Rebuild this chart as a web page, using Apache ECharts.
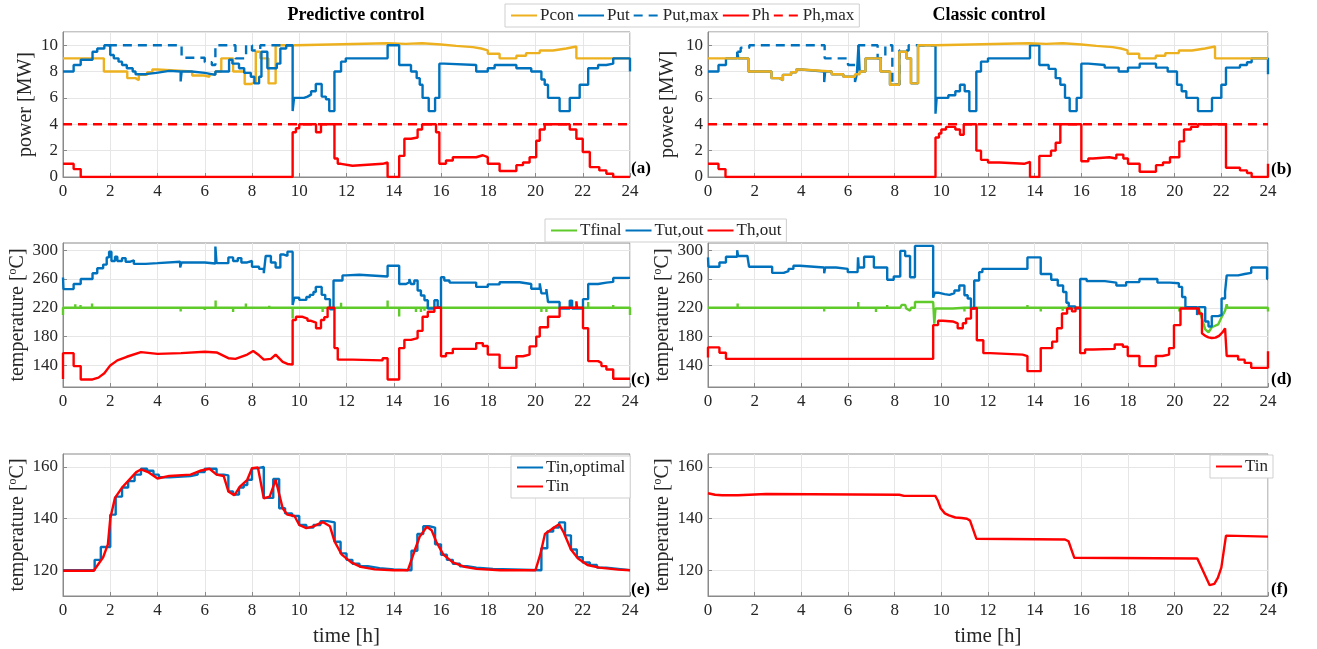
<!DOCTYPE html>
<html><head><meta charset="utf-8">
<script src="https://cdn.jsdelivr.net/npm/echarts@6/dist/echarts.min.js"></script>
<style>html,body{margin:0;padding:0;background:#fff}#c{width:1317px;height:649px}</style>
</head><body><div id="c"></div><script>
// ---------------- DATA ----------------
var xTicks = [0,2,4,6,8,10,12,14,16,18,20,22,24];
var powerTicks = [0,2,4,6,8,10];
var tempTicksCD = [140,180,220,260,300];
var tempTicksEF = [120,140,160];

// (a) Predictive control – power [MW]  (step functions: [t, value])
var pconA = [[0,9],[1.73,8],[2.72,7.5],[3.07,7.35],[3.21,7.75],[3.56,7.95],[3.78,8.15],[4.0,8.0],[5.47,7.7],[5.97,7.6],[6.2,7.8],[6.45,8.0],[6.7,9.0],[7.2,8.0],[7.69,7.05],[7.95,7.2],[8.16,9.5],[8.35,9.0],[8.7,7.1],[9.0,10],[9.85,10.15],[13.74,10.1],[14.5,10.15],[15.2,10.05],[16.0,9.95],[16.64,9.85],[17.35,9.75],[17.7,9.6],[17.98,9.35],[18.48,9.0],[19.19,9.2],[19.6,9.4],[20.18,9.6],[20.74,9.75],[21.3,9.9],[21.73,9.0],[24,9.0]];
var putA = [[0,8],[0.45,8.5],[0.75,8.9],[1.25,9.5],[1.45,9.75],[1.75,10],[2.0,9.25],[2.15,9.0],[2.35,8.75],[2.5,8.5],[2.7,8.25],[2.95,8.0],[3.07,7.8],[3.5,7.9],[3.95,8.05],[4.5,8.0],[4.98,7.25],[5.02,8.0],[5.45,7.9],[6.0,7.75],[6.45,8.0],[7.03,8.9],[7.17,8.6],[7.45,8.25],[7.67,7.9],[7.95,7.6],[8.1,7.1],[8.3,7.6],[8.4,9.5],[8.65,8.25],[9.05,8.6],[9.2,9.75],[9.45,10],[9.72,5.0],[9.78,6.0],[10.2,6.1],[10.35,6.25],[10.5,6.5],[10.7,7.05],[10.95,6.1],[11.13,5.9],[11.27,5.0],[11.49,8.0],[11.77,8.75],[11.97,9.0],[13.74,10],[14.23,8.5],[14.73,8.0],[14.97,7.5],[15.1,7.0],[15.22,6.0],[15.48,5.0],[15.75,6.0],[15.93,8.6],[16.14,8.5],[17.49,8.0],[17.98,8.25],[18.27,8.5],[19.19,8.25],[19.82,8.0],[20.25,7.4],[20.39,7.0],[20.53,6.0],[21.02,5.0],[21.45,6.0],[21.87,7.0],[22.23,8.25],[22.65,8.5],[23.0,8.6],[23.29,9.0],[24,8.0]];
var putMaxA = [[1.9,10],[5.02,9.05],[6.0,8.7],[6.3,8.5],[6.45,10],[7.3,9.0],[7.75,10],[8.0,9.6],[8.35,10],[9.72,10]];
var phA = [[0,1.0],[0.45,0.6],[0.75,0],[9.72,3.4],[9.86,3.7],[10.0,4.0],[10.71,3.4],[10.92,4.0],[11.49,1.4],[11.63,1.0],[11.77,0.85],[12.25,1.0],[13.53,1.1],[13.74,0],[14.23,1.6],[14.45,2.9],[14.73,3.0],[15.01,3.6],[15.2,4.0],[15.79,3.4],[15.93,1.0],[16.21,1.25],[16.5,1.5],[17.49,1.65],[17.77,1.5],[17.98,1.0],[18.48,0.45],[19.19,0.9],[19.47,1.1],[19.75,1.5],[20.03,2.75],[20.18,3.6],[20.39,4.0],[21.45,3.6],[21.73,2.9],[22.0,1.9],[22.3,0.75],[22.7,0.5],[23.0,0.25],[23.29,0],[24,0]];
var phMax = [[0,4],[24,4]];

// (b) Classic control – power [MW]
var pconB = [[0,9],[1.73,8],[2.72,7.5],[3.07,7.35],[3.21,7.75],[3.56,7.95],[3.78,8.15],[4.0,8.0],[5.3,7.8],[5.8,7.6],[6.3,7.8],[6.5,8.0],[6.75,9.0],[7.4,8.0],[7.8,7.0],[8.2,9.5],[8.5,9.0],[8.7,7.1],[9.0,10],[9.75,10.15],[13.74,10.1],[14.5,10.15],[15.2,10.05],[16.0,9.95],[16.64,9.85],[17.35,9.75],[17.7,9.6],[17.98,9.35],[18.48,9.0],[19.19,9.2],[19.6,9.4],[20.18,9.6],[20.74,9.75],[21.3,9.9],[21.73,9.0],[24,9.0]];
var putB = [[0,8],[0.45,8.5],[0.77,9],[1.25,9.5],[1.3,9],[1.73,8],[2.72,7.5],[3.07,7.35],[3.21,7.75],[3.56,7.95],[3.78,8.15],[4.0,8.0],[4.98,7.2],[5.02,8.0],[5.3,7.8],[5.8,7.6],[6.3,7.2],[6.38,7.8],[6.45,10],[6.5,8.0],[6.75,9.0],[7.4,8.0],[7.8,7.0],[8.2,9.5],[8.5,9.0],[8.7,7.1],[9.0,10],[9.75,4.8],[9.8,6.0],[10.3,6.2],[10.6,6.5],[10.8,7.0],[11.0,6.5],[11.2,5.0],[11.5,8.0],[11.7,8.75],[12.0,9.0],[13.8,10],[14.2,8.5],[14.6,8.2],[14.9,7.5],[15.1,7.0],[15.3,6.0],[15.5,5.0],[15.8,6.0],[16.0,8.6],[16.3,8.5],[17.0,8.3],[17.6,8.0],[18.0,8.3],[18.5,8.6],[19.2,8.3],[19.7,8.0],[20.1,7.0],[20.3,6.5],[20.5,6.0],[21.0,5.0],[21.6,6.0],[22.0,7.0],[22.2,8.3],[22.8,8.5],[23.1,8.7],[23.3,9.0],[24,7.8]];
var putMaxB = [[1.26,9.5],[1.4,9.8],[1.77,10],[5.0,9.0],[6.0,8.5],[6.45,10],[7.27,9.0],[7.6,10],[7.9,7.0],[8.2,9.6],[8.6,10],[9.75,10]];
var phB = [[0,1.0],[0.45,0.6],[0.75,0],[9.75,3.0],[9.9,3.3],[10.0,3.6],[10.2,3.8],[10.6,3.6],[10.8,3.2],[10.96,4.0],[11.5,2.0],[11.7,1.3],[12.0,1.1],[12.5,1.0],[13.55,1.15],[13.8,0],[14.2,1.6],[14.7,2.0],[14.9,2.6],[15.1,4.0],[16.0,1.2],[16.3,1.4],[16.5,1.5],[17.2,1.4],[17.5,1.7],[17.8,1.4],[18.0,1.0],[18.5,0.4],[19.2,0.9],[19.5,1.1],[19.8,1.5],[20.2,2.7],[20.4,3.6],[20.7,3.8],[21.0,4.0],[22.2,0.7],[22.8,0.5],[23.1,0.3],[23.3,0],[24,1.0]];

// (c) Predictive control – temperatures [°C]
var tfinalCStart = 210, tfinalCBase = 220, tfinalCEnd = 210;
var tfinalCSpikeT = [0.52,0.74,1.23,4.98,6.0,6.46,7.2,7.74,8.73,9.72,10.99,11.1,11.77,13.74,14.23,14.94,15.15,15.3,17.5,18.5,20.25,20.46,22.23,23.29];
var tfinalCSpikeV = [225,224,226,215,217,230,214,226,223,205,214,222,227,230,208,214,214,216,218,218,214,214,228,224];
var tutC = [[0,262],[0.02,246],[0.45,253],[0.75,260],[1.25,268],[1.45,275],[1.7,280],[1.85,290],[1.95,298],[2.05,285],[2.2,291],[2.3,285],[2.5,289],[2.65,284],[2.85,286],[3.0,281],[3.5,282],[4.0,284],[4.96,276],[5.02,283],[6.0,281.5],[6.45,305],[6.5,282],[7.0,290],[7.2,285],[7.4,289],[7.55,283],[7.8,285],[8.0,277],[8.3,274],[8.5,268],[8.58,292],[8.8,283],[9.0,276],[9.2,294],[9.35,292],[9.5,298],[9.72,224],[9.79,234],[10.0,231],[10.3,235],[10.45,238],[10.6,242],[10.7,249],[10.95,238],[11.1,232],[11.3,218],[11.45,258],[11.83,265],[11.97,266],[12.54,263.5],[13.74,278.5],[14.23,253],[14.52,255.5],[14.66,260],[14.73,253],[14.87,258],[15.01,244],[15.15,237],[15.3,230.5],[15.44,219],[15.72,230.5],[15.86,221],[16.0,262.5],[16.14,258],[16.36,255],[17.49,249],[17.98,252.5],[18.48,255.5],[19.33,253],[19.82,246.5],[20.18,254],[20.25,240],[20.46,246],[20.53,228],[21.02,219],[21.45,230],[21.55,219],[22.01,232],[22.23,253],[22.65,255],[23.0,256],[23.29,261.5],[24,261.5]];
var thCStart = 121;
var thCStepA = [[0,157],[0.45,139],[0.75,120.5],[1.25,120.5]];
var thCSmooth = [[1.5,123],[1.75,129],[2.0,140],[2.3,147],[2.7,152],[3.3,158.5],[4.0,156],[5.0,157],[6.0,159],[6.5,158],[7.0,150],[7.3,149],[7.8,155],[8.05,160],[8.3,154],[8.5,148],[8.8,149],[9.0,155],[9.3,145],[9.5,142],[9.72,141]];
var thCStepB = [[9.72,203],[9.86,207.5],[10.14,205],[10.35,202],[10.5,199.5],[10.71,191.5],[10.92,203],[11.06,207],[11.2,220],[11.49,164],[11.63,148],[12.25,147],[13.53,150],[13.74,120.5],[14.23,164],[14.45,175.5],[14.73,178],[15.01,188],[15.22,207.5],[15.44,214.5],[15.72,220],[16.0,152.7],[16.21,157],[16.5,163],[17.49,171],[17.77,167],[17.98,155],[18.48,136.5],[19.19,152.7],[19.47,155],[19.75,166.4],[20.03,180],[20.18,193],[20.53,207.5],[21.02,220],[21.73,229],[21.76,220],[22.01,191.5],[22.23,146],[22.65,143.5],[22.79,139],[23.0,134.3],[23.29,121.5],[24,121.5]];

// (d) Classic control – temperatures [°C]
var tfinalD = [[0,220],[1.27,220],[1.27,226],[1.27,220],[4.98,220],[4.98,215],[4.98,220],[6.44,220],[6.44,228],[6.44,220],[7.2,220],[7.2,214],[7.2,220],[7.68,220],[7.68,224],[7.68,220],[8.24,220],[8.3,224],[8.45,224],[8.5,219],[8.66,216],[8.7,220],[8.87,220],[8.87,228],[9.65,228],[9.7,198],[9.75,219],[10.5,219],[10.99,220],[10.99,215],[10.99,220],[13.69,220],[13.69,224],[13.69,220],[14.26,220],[14.26,215],[14.26,220],[15.2,220],[15.2,216],[15.2,220],[20.2,220],[20.2,215],[20.2,220],[21.03,220],[21.31,190],[21.45,186],[21.59,193],[21.87,197],[22.01,207],[22.16,216],[22.23,225],[22.26,220],[24,220],[24,215]];
var tutD = [[0,290],[0.02,277],[0.49,283],[0.77,291],[1.25,300],[1.29,292],[1.69,291],[1.76,277],[2.75,268.5],[3.24,271],[3.45,274],[3.66,278.5],[3.94,276],[4.98,268],[5.02,276],[5.49,274],[5.99,269.5],[6.41,272],[6.43,290],[6.46,276],[6.69,291],[7.11,276],[7.68,259],[7.96,263.5],[8.24,299],[8.45,292],[8.66,262.5],[8.87,306],[9.65,234],[9.72,241],[9.86,239],[10.14,238],[10.35,240.5],[10.56,244],[10.77,251],[10.99,237.5],[11.13,233],[11.27,219],[11.41,258],[11.62,269.5],[11.76,274],[13.69,290],[14.26,267],[14.71,259],[14.99,251],[15.22,242],[15.36,227],[15.46,222],[15.74,219],[15.95,260],[16.23,257],[17.01,255],[17.5,251],[17.92,255.7],[18.49,260],[19.26,255],[19.8,254],[20.18,249],[20.32,235],[20.46,221],[20.96,210],[21.03,221],[21.31,201],[21.45,194],[21.59,208.5],[21.87,210],[22.01,233],[22.16,242],[22.23,265],[22.72,267],[23.0,268.5],[23.28,276],[23.96,260],[24,260]];
var thDStart = 151;
var thDStepA = [[0,165],[0.49,157.5],[0.77,149],[9.65,196],[9.86,202],[10.07,201],[10.49,198.5],[10.7,191.6],[10.92,198.5],[11.06,205],[11.27,219],[11.41,220],[11.52,175],[11.8,157],[12.1,155],[13.48,153],[13.69,132],[14.26,164],[14.75,173],[14.96,191.6],[15.17,212],[15.39,219],[15.6,215],[15.75,220],[15.95,157],[16.16,162],[16.51,163],[17.43,169],[17.78,166],[17.99,153],[18.49,139],[19.19,153],[19.48,155],[19.76,164],[19.97,196],[20.25,219],[21.03,212],[21.17,184.7]];
var thDSmooth = [[21.31,181],[21.45,179],[21.59,178],[21.75,178.5],[21.9,181],[22.05,186],[22.16,191.5],[22.2,191]];
var thDStepB = [[22.23,153],[22.72,148],[23.0,143.5],[23.28,136.6],[24,136.6]];
var thDEnd = 159.5;

// (e) Predictive control – inlet temperature [°C]
var tinOptE = [[0,120],[1.34,124],[1.6,129],[2.0,141.5],[2.23,148.5],[2.5,152],[2.76,154.5],[3.03,157],[3.3,159.3],[3.56,158.5],[3.83,157],[4.06,156],[4.5,156.5],[5.4,157],[5.7,158],[6.0,159.3],[6.5,157],[6.8,156.7],[7.0,150.5],[7.2,149.3],[7.45,152],[7.65,153],[7.8,155],[8.0,159.5],[8.25,160],[8.5,148],[8.9,155.3],[9.15,144],[9.4,142],[9.7,141],[10.0,137.5],[10.3,136.5],[10.6,137.5],[10.9,139],[11.2,138.5],[11.5,131],[11.75,126.5],[12.0,124],[12.25,122.5],[12.55,121.5],[12.9,120.8],[13.4,120.3],[14.0,120],[14.75,127.5],[15.0,134],[15.25,137],[15.5,136.5],[15.75,130],[16.0,126],[16.25,124],[16.5,122.5],[16.8,121.5],[17.1,121],[17.5,120.5],[18.2,120],[20.25,128.5],[20.5,135],[20.75,136.5],[21.0,138.5],[21.25,133.5],[21.5,128],[21.75,125],[22.0,123],[22.3,122],[22.6,121],[23.0,120.5],[23.5,120],[24,120]];
var tinE = [[0,119.8],[1.3,119.8],[1.7,125],[1.9,130],[2.0,140],[2.2,148],[2.5,152],[2.8,155],[3.1,158],[3.3,159],[3.6,158],[4.0,155.5],[4.5,156.5],[5.4,157],[5.8,158.5],[6.2,159.3],[6.5,157],[6.8,156.5],[7.0,150.5],[7.25,149],[7.5,152.5],[7.8,155],[8.0,159.5],[8.25,159.8],[8.5,147.8],[8.75,148.5],[9.0,155],[9.3,144],[9.5,141.5],[9.8,141],[10.0,137.5],[10.3,136.3],[10.6,137],[11.0,138.7],[11.3,137],[11.5,131],[11.8,126],[12.2,123],[12.6,121.3],[13.2,120.3],[14.0,120],[14.6,120],[14.9,128],[15.1,133],[15.4,136.8],[15.6,135.5],[15.8,131],[16.1,126],[16.5,123],[17.0,121.3],[17.5,120.5],[18.5,120],[20.0,120],[20.2,126],[20.4,134],[20.7,136],[21.0,137.8],[21.2,134.5],[21.5,128],[21.8,124.5],[22.2,122],[22.7,121],[23.5,120.2],[24,120]];

// (f) Classic control – inlet temperature [°C]
var tinF = [[0,149.8],[0.3,149.2],[0.6,149],[1.28,149],[1.3,149.7],[2.5,149.5],[8.2,149.2],[8.4,148.8],[9.74,148.8],[9.85,147],[9.97,144],[10.15,142],[10.33,141.2],[10.6,140.4],[10.87,140.2],[11.1,139.9],[11.23,139.2],[11.5,132.2],[15.3,131.9],[15.45,131.2],[15.7,124.8],[20.97,124.5],[21.5,114.2],[21.7,114.7],[21.85,117],[22.0,121],[22.2,133.4],[24,133]];

// ---------------- HELPERS ----------------
function stepPoly(p){var o=[];for(var i=0;i<p.length;i++){o.push([p[i][0],p[i][1]]);if(i<p.length-1)o.push([p[i+1][0],p[i][1]]);}return o;}
function spiky(start,base,end,ts,vs){var o=[[0,start],[0,base]];for(var i=0;i<ts.length;i++){o.push([ts[i],base],[ts[i],vs[i]],[ts[i],base]);}o.push([24,base],[24,end]);return o;}

var tfinalC = spiky(tfinalCStart,tfinalCBase,tfinalCEnd,tfinalCSpikeT,tfinalCSpikeV);
var thC = [[0,thCStart]].concat(stepPoly(thCStepA),thCSmooth,stepPoly(thCStepB));
var thD = [[0,thDStart]].concat(stepPoly(thDStepA),thDSmooth,stepPoly(thDStepB),[[24,thDEnd]]);

// ---------------- STYLE ----------------
var FONT = '"Liberation Serif", "Times New Roman", serif';
var FRAME = '#8a8a8a', GRIDC = '#e6e6e6', TXT = '#262626';
var ORANGE = '#EDB120', BLUE = '#0072BD', RED = '#FF0000', GREEN = '#5FCB2A';
var grids = [
  {left:63, top:32, width:567, height:145},
  {left:708, top:32, width:560, height:145},
  {left:63, top:243, width:567, height:144},
  {left:708, top:243, width:560, height:144},
  {left:63, top:454, width:567, height:142},
  {left:708, top:454, width:560, height:142}
];
grids.forEach(function(g){g.show=true;g.borderColor=FRAME;g.borderWidth=1;g.backgroundColor='#fff';});

function xAx(i, named){
  return {type:'value', gridIndex:i, min:0, max:24, interval:2,
    axisLine:{show:true,onZero:false,lineStyle:{color:FRAME}},
    axisTick:{show:true,inside:true,length:4,lineStyle:{color:FRAME}},
    axisLabel:{color:TXT,fontFamily:FONT,fontSize:17,margin:6},
    splitLine:{show:true,lineStyle:{color:GRIDC,width:1}},
    name: named?'time [h]':'', nameLocation:'middle', nameGap:30,
    nameTextStyle:{color:TXT,fontFamily:FONT,fontSize:21}};
}
var supRich = {s:{fontSize:12,fontFamily:FONT,color:TXT,verticalAlign:'top',lineHeight:22}};
function yAx(i, o){
  var a = {type:'value', gridIndex:i, min:o.min, max:o.max,
    axisLine:{show:true,onZero:false,lineStyle:{color:FRAME}},
    axisTick:{show:true,inside:true,length:4,lineStyle:{color:FRAME}},
    axisLabel:{color:TXT,fontFamily:FONT,fontSize:17,margin:5},
    splitLine:{show:true,lineStyle:{color:GRIDC,width:1}},
    name:o.name, nameLocation:'middle', nameGap:o.gap,
    nameTextStyle:{color:TXT,fontFamily:FONT,fontSize:20,lineHeight:22,rich:supRich}};
  if(o.interval){a.interval=o.interval;a.axisLabel.showMaxLabel=false;}
  if(o.ticks){a.axisLabel.customValues=o.ticks;a.axisTick.customValues=o.ticks;a.splitLine.customValues=o.ticks;}
  return a;
}
var tName = 'temperature [{s|o}C]';
var xAxes=[xAx(0),xAx(1),xAx(2),xAx(3),xAx(4,true),xAx(5,true)];
var yAxes=[
  yAx(0,{min:0,max:11,interval:2,name:'power [MW]',gap:26}),
  yAx(1,{min:0,max:11,interval:2,name:'powee [MW]',gap:29}),
  yAx(2,{min:110,max:310,ticks:tempTicksCD,name:tName,gap:32}),
  yAx(3,{min:110,max:310,ticks:tempTicksCD,name:tName,gap:33}),
  yAx(4,{min:110,max:165,ticks:tempTicksEF,name:tName,gap:32}),
  yAx(5,{min:110,max:165,ticks:tempTicksEF,name:tName,gap:33})
];

function S(name,i,data,color,o){
  o=o||{};
  return {type:'line',name:name,xAxisIndex:i,yAxisIndex:i,data:data,
    showSymbol:false,symbol:'none',step:o.step||false,animation:false,z:o.z||2,
    lineStyle:{color:color,width:o.w||2.4,type:o.dash?[9,6]:'solid'},
    itemStyle:{color:color},emphasis:{disabled:true}};
}
var series=[
  S('Pcon',0,pconA,ORANGE,{step:'end'}),
  S('Put',0,putA,BLUE,{step:'end'}),
  S('Put,max',0,putMaxA,BLUE,{step:'end',dash:true}),
  S('Ph',0,phA,RED,{step:'end'}),
  S('Ph,max',0,phMax,RED,{dash:true}),
  S('Put',1,putB,BLUE,{step:'end'}),
  S('Put,max',1,putMaxB,BLUE,{step:'end',dash:true}),
  S('Pcon',1,pconB,ORANGE,{step:'end'}),
  S('Ph',1,phB,RED,{step:'end'}),
  S('Ph,max',1,phMax,RED,{dash:true}),
  S('Tfinal',2,tfinalC,GREEN),
  S('Tut,out',2,tutC,BLUE,{step:'end'}),
  S('Th,out',2,thC,RED),
  S('Tfinal',3,tfinalD,GREEN),
  S('Tut,out',3,tutD,BLUE,{step:'end'}),
  S('Th,out',3,thD,RED),
  S('Tin,optimal',4,tinOptE,BLUE,{step:'end'}),
  S('Tin',4,tinE,RED),
  S('Tin',5,tinF,RED)
];

var legBase = {itemWidth:26,itemHeight:10,itemGap:3,padding:[3,5],borderColor:'#cfcfcf',borderWidth:1,backgroundColor:'#fff',
  itemStyle:{opacity:0},
  textStyle:{fontFamily:FONT,fontSize:17,color:TXT,padding:[0,0,0,-2]},selectedMode:false};
function L(o){var r={};for(var k in legBase)r[k]=legBase[k];for(var k2 in o)r[k2]=o[k2];return r;}
var legends=[
  L({data:['Pcon','Put','Put,max','Ph','Ph,max'],left:505,top:4}),
  L({data:['Tfinal','Tut,out','Th,out'],left:545,top:219}),
  L({data:['Tin,optimal','Tin'],left:511,top:456,orient:'vertical',itemGap:2}),
  L({data:['Tin'],left:1210,top:455})
];

function T(txt,x,y,o){o=o||{};return {type:'text',x:x,y:y,z:100,style:{text:txt,fill:'#000',font:(o.bold?'bold ':'')+(o.size||17)+'px '+FONT,textAlign:o.align||'left',textVerticalAlign:'middle'}};}
var graphics=[
  T('Predictive control',356,15,{bold:true,size:18,align:'center'}),
  T('Classic control',989,15,{bold:true,size:18,align:'center'}),
  T('(a)',631,169,{bold:true}),
  T('(b)',1271,170,{bold:true}),
  T('(c)',631,380,{bold:true}),
  T('(d)',1271,380,{bold:true}),
  T('(e)',631,590,{bold:true}),
  T('(f)',1271,590,{bold:true})
];

var chart = echarts.init(document.getElementById('c'),null,{renderer:'canvas'});
chart.setOption({backgroundColor:'#fff',animation:false,grid:grids,xAxis:xAxes,yAxis:yAxes,series:series,legend:legends,graphic:graphics});
</script></body></html>
